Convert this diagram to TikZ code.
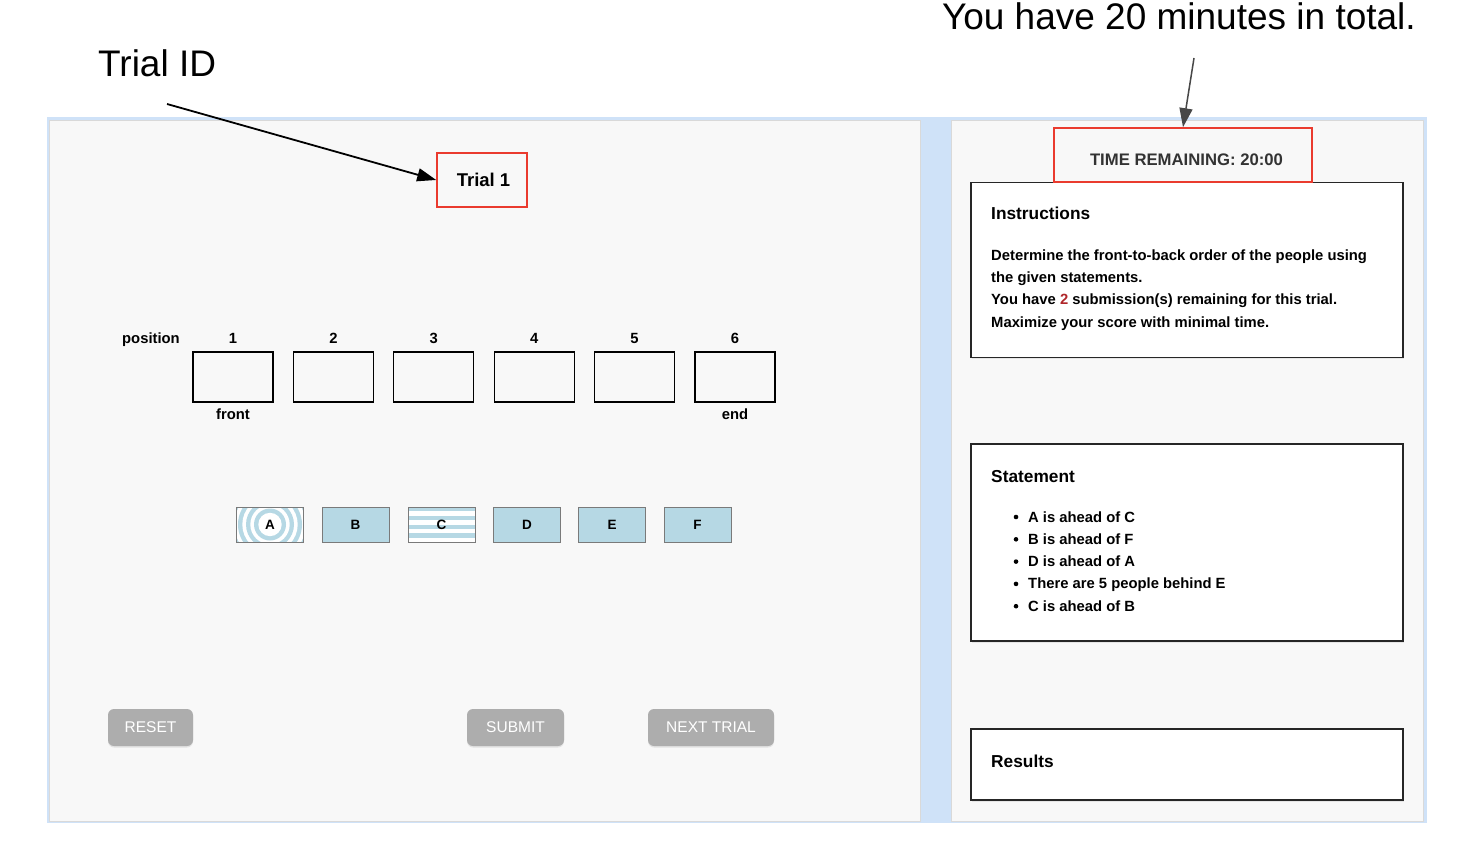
\documentclass[tikz,border=0pt]{standalone}
\usepackage{fontspec}
\setmainfont{Liberation Sans}
\usetikzlibrary{arrows.meta,shadows}
\definecolor{pageblue}{HTML}{CFE2F8}
\definecolor{panelfill}{HTML}{F8F8F8}
\definecolor{panelline}{HTML}{D9D9D9}
\definecolor{tileblue}{HTML}{B6D8E4}
\definecolor{tileline}{HTML}{7A7A7A}
\definecolor{btngray}{HTML}{ADADAD}
\definecolor{boxred}{HTML}{EA3B2E}
\definecolor{darkred}{HTML}{B0272B}
\definecolor{timegray}{HTML}{333333}
\newcommand\fsz[1]{\fontsize{#1}{#1}\selectfont}
\begin{document}
\begin{tikzpicture}[x=1pt,y=-1pt,
  posbox/.style={draw=black, line width=1.1pt, minimum width=80pt, minimum height=50pt, inner sep=0pt},
  tile/.style={draw=tileline, line width=0.8pt, minimum width=67pt, minimum height=35pt, inner sep=0pt, font=\bfseries\fsz{13.5}},
  btn/.style={fill=btngray, rounded corners=6pt, text=white, minimum height=37pt, inner sep=0pt, font=\fsz{15.5},
     drop shadow={opacity=0.18, shadow xshift=0pt, shadow yshift=-1.5pt}},
  card/.style={draw=black!85, line width=1.8pt, fill=white, minimum width=432pt, inner sep=0pt,
     drop shadow={opacity=0.15, shadow xshift=0.5pt, shadow yshift=-1.5pt}},
  redbox/.style={draw=boxred, line width=1.6pt, inner sep=0pt},
  big/.style={font=\fsz{37}, inner sep=0pt},
  lbl/.style={font=\bfseries\fsz{14.8}, inner sep=0pt},
  head/.style={font=\bfseries\fsz{17.3}, inner sep=0pt, anchor=base west},
  body/.style={font=\bfseries\fsz{14.8}, inner sep=0pt, anchor=base west},
  callout/.style={line width=1.8pt, -{Triangle[length=19pt,width=13pt]}}
]
\useasboundingbox (0,0) rectangle (1464,842);
\fill[white] (0,0) rectangle (1464,842);
% frame and panels
\fill[pageblue] (47,117) rectangle (1427,823);
\filldraw[fill=panelfill, draw=panelline, line width=0.8pt] (49,120) rectangle (920,821);
\filldraw[fill=panelfill, draw=panelline, line width=0.8pt] (951,120) rectangle (1423,821);

% annotations
\node[big, anchor=west] (tid) at (98,63) {Trial ID};
\node[big, anchor=base east] (tot) at (1416,30) {You have 20 minutes in total.};

% trial box
\node[redbox, minimum width=90pt, minimum height=54pt] (trial) at (482,180) {};
\node[font=\bfseries\fsz{18.5}, inner sep=0pt, anchor=base] (trialtxt) at (483.5,187) {Trial 1};
\coordinate (tidtail) at (167,104);
\draw[callout, black] (tidtail) -- (trial.west);

% positions
\node[lbl, anchor=base west] (poslbl) at (122,343) {position};
\foreach \i in {1,...,6}{
  \pgfmathsetmacro{\cx}{233+100.4*(\i-1)}
  \node[posbox] (p\i) at (\cx,377) {};
  \node[lbl, anchor=base] (n\i) at (\cx,343) {\i};
}
\node[lbl, anchor=base] (front) at (233,419) {front};
\node[lbl, anchor=base] (end) at (735,419) {end};

% tiles
% A: concentric rings
\begin{scope}
  \clip (236.5,507) rectangle (303.5,542);
  \fill[white] (236.5,507) rectangle (303.5,542);
  \foreach \r in {40,32,24,16}{
    \fill[tileblue] (270,524.5) circle[radius=\r pt];
    \fill[white] (270,524.5) circle[radius=\r pt-4.3pt];
  }
\end{scope}
\node[tile] (tA) at (270,524.5) {A};
\node[tile, fill=tileblue] (tB) at (355.5,524.5) {B};
% C: stripes
\begin{scope}
  \clip (408,507) rectangle (475,542);
  \fill[white] (408,507) rectangle (475,542);
  \foreach \k in {0,2,4,6}{
    \fill[tileblue] (408,507+4.375*\k) rectangle (475,507+4.375*\k+4.375);
  }
\end{scope}
\node[tile] (tC) at (441.5,524.5) {C};
\node[tile, fill=tileblue] (tD) at (527,524.5) {D};
\node[tile, fill=tileblue] (tE) at (612,524.5) {E};
\node[tile, fill=tileblue] (tF) at (697.5,524.5) {F};

% buttons
\node[btn, minimum width=85pt] (reset) at (150.5,727.5) {RESET};
\node[btn, minimum width=97pt] (submit) at (515.5,727.5) {SUBMIT};
\node[btn, minimum width=126pt] (next) at (711,727.5) {NEXT TRIAL};

% right panel cards
\node[card, minimum height=175pt] (instr) at (1187,270) {};
\node[card, minimum height=197pt] (stmt) at (1187,542.5) {};
\node[card, minimum height=71pt] (res) at (1187,764.5) {};

% time box
\node[redbox, minimum width=258pt, minimum height=54pt] (time) at (1183,155) {};
\node[font=\bfseries\fsz{16.7}, text=timegray, inner sep=0pt, anchor=base] (timetxt) at (1186.5,166) {TIME REMAINING: 20:00};
\coordinate (tottail) at (1194,58);
\draw[callout, black!72, line width=1.5pt] (tottail) -- (time.north);

% instructions text
\node[head] (ih) at (991,220) {Instructions};
\node[body] (i1) at (991,261) {Determine the front-to-back order of the people using};
\node[body] (i2) at (991,283) {the given statements.};
\node[body] (i3) at (991,305) {You have \textcolor{darkred}{2} submission(s) remaining for this trial.};
\node[body] (i4) at (991,327) {Maximize your score with minimal time.};

% statement text
\node[head] (sh) at (991,482) {Statement};
\foreach \t [count=\j] in {A is ahead of C, B is ahead of F, D is ahead of A, There are 5 people behind E, C is ahead of B}{
  \pgfmathsetmacro{\by}{522+22.3*(\j-1)}
  \node[body] (s\j) at (1028,\by) {\t};
  \fill (1016,\by-5) circle[radius=2.3pt];
}

% results
\node[head] (rh) at (991,767) {Results};
\end{tikzpicture}
\end{document}
